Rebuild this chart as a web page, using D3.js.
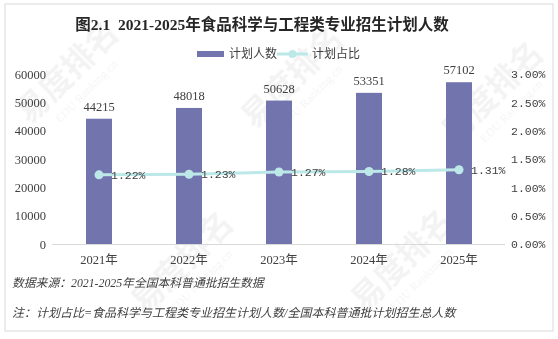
<!DOCTYPE html>
<html>
<head>
<meta charset="utf-8">
<script src="https://cdn.jsdelivr.net/npm/d3@7"></script>
<style>
  html, body { margin: 0; padding: 0; background: #ffffff; }
  svg { display: block; }
</style>
</head>
<body>
<div id="chart"></div>
<script>
// Enrolment plan for Food Science & Engineering majors, 2021-2025
const years = ["2021年", "2022年", "2023年", "2024年", "2025年"];
const planCounts = [44215, 48018, 50628, 53351, 57102];
const planShares = [0.0122, 0.0123, 0.0127, 0.0128, 0.0131];
const leftTicks = [0, 10000, 20000, 30000, 40000, 50000, 60000];
const rightTicks = [0, 0.005, 0.01, 0.015, 0.02, 0.025, 0.03];
const seriesNames = ["计划人数", "计划占比"];
const titleText = "图2.1  2021-2025年食品科学与工程类专业招生计划人数";
const sourceText = "数据来源：2021-2025年全国本科普通批招生数据";
const noteText = "注：计划占比=食品科学与工程类专业招生计划人数/全国本科普通批计划招生总人数";

const W = 558, H = 339;
const barColor = "#7274ae";
const lineColor = "#bde8e8";
const textColor = "#404040";
const serif = "'Liberation Serif', 'Noto Sans CJK SC', serif";
const cjk = "'Noto Sans CJK SC', sans-serif";
const mono = "'Liberation Mono', 'DejaVu Sans Mono', monospace";

const svg = d3.select("#chart").append("svg")
  .attr("width", W).attr("height", H);

// faint tiled watermark, kept inside the frame
const wm = svg.append("g").attr("fill", "#000").attr("opacity", 0.05);
const wmSpots = [[75, 80], [300, 85], [500, 100], [190, 270], [410, 268]];
wmSpots.forEach(([cx, cy]) => {
  const g = wm.append("g").attr("transform", `translate(${cx},${cy}) rotate(-45)`);
  g.append("text").attr("text-anchor", "middle").attr("font-family", cjk)
    .attr("font-weight", 700).attr("font-size", 32).text("易度排名");
  g.append("text").attr("text-anchor", "middle").attr("y", 20)
    .attr("font-family", "'Liberation Serif', serif").attr("font-size", 12)
    .text("EDU Ranking.cn");
});

// outer frame
svg.append("rect").attr("x", 5).attr("y", 4).attr("width", 548).attr("height", 327)
  .attr("fill", "none").attr("stroke", "#d9d9d9").attr("stroke-width", 1);

// title
svg.append("text").attr("x", 262).attr("y", 30).attr("text-anchor", "middle")
  .attr("font-family", serif).attr("font-weight", 700).attr("font-size", 15.5)
  .attr("fill", "#262626").attr("xml:space", "preserve").text(titleText);

// scales
const x = d3.scaleBand().domain(years).range([54, 504])
  .paddingInner(0.711).paddingOuter(0.3555);
const yL = d3.scaleLinear().domain([0, 60000]).range([244, 74]);
const yR = d3.scaleLinear().domain([0, 0.03]).range([244, 74]);

// left axis
const axL = svg.append("g").attr("transform", "translate(46,0)")
  .call(d3.axisLeft(yL).tickValues(leftTicks).tickSize(0).tickPadding(0).tickFormat(d3.format("d")));
axL.select(".domain").remove();
axL.selectAll("text").attr("font-family", serif).attr("font-size", 12.5).attr("fill", textColor);

// right axis
const axR = svg.append("g").attr("transform", "translate(511,0)")
  .call(d3.axisRight(yR).tickValues(rightTicks).tickSize(0).tickPadding(0).tickFormat(d3.format(".2%")));
axR.select(".domain").remove();
axR.selectAll("text").attr("font-family", mono).attr("font-size", 11.5).attr("fill", textColor);

// bottom axis
const axB = svg.append("g").attr("transform", "translate(0,244)")
  .call(d3.axisBottom(x).tickSize(0).tickPadding(11));
axB.select(".domain").attr("stroke", "#d9d9d9").attr("d", "M52,0.5H505");
axB.selectAll("text").attr("font-family", serif).attr("font-size", 12.5).attr("fill", textColor);

// bars
svg.append("g").selectAll("rect").data(planCounts).join("rect")
  .attr("x", (d, i) => x(years[i]))
  .attr("y", d => yL(d))
  .attr("width", x.bandwidth())
  .attr("height", d => yL(0) - yL(d))
  .attr("fill", barColor);

// bar value labels
svg.append("g").selectAll("text").data(planCounts).join("text")
  .attr("x", (d, i) => x(years[i]) + x.bandwidth() / 2)
  .attr("y", d => yL(d) - 8)
  .attr("text-anchor", "middle")
  .attr("font-family", serif).attr("font-size", 12.5).attr("fill", textColor)
  .text(d => d);

// share line
const cx = (i) => x(years[i]) + x.bandwidth() / 2;
const line = d3.line().x((d, i) => cx(i)).y(d => yR(d));
svg.append("path").datum(planShares).attr("d", line)
  .attr("fill", "none").attr("stroke", lineColor).attr("stroke-width", 3);
svg.append("g").selectAll("circle").data(planShares).join("circle")
  .attr("cx", (d, i) => cx(i)).attr("cy", d => yR(d)).attr("r", 4.5)
  .attr("fill", lineColor);

// share labels
svg.append("g").selectAll("text").data(planShares).join("text")
  .attr("x", (d, i) => cx(i) + 12)
  .attr("y", d => yR(d))
  .attr("dy", "0.35em")
  .attr("font-family", mono).attr("font-size", 11.5).attr("fill", textColor)
  .text(d => d3.format(".2%")(d));

// legend
const lg = svg.append("g");
lg.append("rect").attr("x", 197).attr("y", 51).attr("width", 27).attr("height", 6).attr("fill", barColor);
lg.append("text").attr("x", 229).attr("y", 54).attr("dy", "0.35em")
  .attr("font-family", cjk).attr("font-size", 12).attr("fill", textColor).text(seriesNames[0]);
lg.append("line").attr("x1", 277).attr("x2", 308).attr("y1", 54).attr("y2", 54)
  .attr("stroke", lineColor).attr("stroke-width", 3);
lg.append("circle").attr("cx", 292.5).attr("cy", 54).attr("r", 4).attr("fill", lineColor);
lg.append("text").attr("x", 312).attr("y", 54).attr("dy", "0.35em")
  .attr("font-family", cjk).attr("font-size", 12).attr("fill", textColor).text(seriesNames[1]);

// footnotes
svg.append("text").attr("x", 12).attr("y", 283).attr("dy", "0.35em")
  .attr("font-family", serif).attr("font-style", "italic").attr("font-size", 11.8)
  .attr("fill", textColor).text(sourceText);
svg.append("text").attr("x", 12).attr("y", 313).attr("dy", "0.35em")
  .attr("font-family", serif).attr("font-style", "italic").attr("font-size", 12)
  .attr("fill", textColor).text(noteText);
</script>
</body>
</html>
